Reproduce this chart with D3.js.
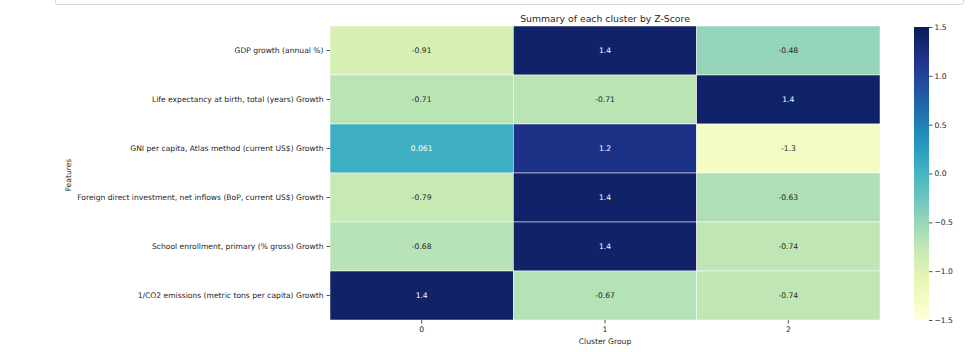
<!DOCTYPE html>
<html>
<head>
<meta charset="utf-8">
<script src="https://cdn.jsdelivr.net/npm/d3@7"></script>
<style>
  body { margin: 0; background: #fff; }
  svg { font-family: "DejaVu Sans", sans-serif; }
</style>
</head>
<body>
<svg id="chart" width="980" height="352"></svg>
<script>
// values as shown in the cells
var features = [
    "GDP growth (annual %)",
    "Life expectancy at birth, total (years) Growth",
    "GNI per capita, Atlas method (current US$) Growth",
    "Foreign direct investment, net inflows (BoP, current US$) Growth",
    "School enrollment, primary (% gross) Growth",
    "1/CO2 emissions (metric tons per capita) Growth"
];
var clusters = ["0", "1", "2"];
var zscores = [
    [-0.91, 1.4, -0.48],
    [-0.71, -0.71, 1.4],
    [0.061, 1.2, -1.3],
    [-0.79, 1.4, -0.63],
    [-0.68, 1.4, -0.74],
    [1.4, -0.67, -0.74]
];
var cbarTicks = [1.5, 1.0, 0.5, 0.0, -0.5, -1.0, -1.5];

var fs = 7.6;   // small text size

var svg = d3.select("#chart");

// notebook cell frame peeking at the top
svg.append("rect")
    .attr("x", 55.5).attr("y", -10)
    .attr("width", 908).attr("height", 14.5)
    .attr("rx", 2)
    .attr("fill", "#fff")
    .attr("stroke", "#d6d6d6");

var hmLeft = 330, hmTop = 26, hmRight = 880, hmBottom = 320;

var x = d3.scaleBand().domain(clusters).range([hmLeft, hmRight]);
var y = d3.scaleBand().domain(features).range([hmTop, hmBottom]);
var color = d3.scaleSequential(d3.interpolateYlGnBu).domain([-1.5, 1.5]);

var cells = [];
zscores.forEach(function(row, i) {
    row.forEach(function(v, j) {
        cells.push({ f: features[i], c: clusters[j], v: v });
    });
});

var g = svg.append("g");

g.selectAll("rect.cell")
    .data(cells)
    .enter().append("rect")
    .attr("class", "cell")
    .attr("x", function(d) { return x(d.c); })
    .attr("y", function(d) { return y(d.f); })
    .attr("width", x.bandwidth())
    .attr("height", y.bandwidth())
    .attr("fill", function(d) { return color(d.v); })
    .attr("stroke", "#fff")
    .attr("stroke-width", 0.5);

// text colour like seaborn: dark cells get white text
function lum(c) {
    var rgb = d3.rgb(c);
    var ch = [rgb.r, rgb.g, rgb.b].map(function(v) {
        v = v / 255;
        return v <= 0.03928 ? v / 12.92 : Math.pow((v + 0.055) / 1.055, 2.4);
    });
    return 0.2126 * ch[0] + 0.7152 * ch[1] + 0.0722 * ch[2];
}

g.selectAll("text.annot")
    .data(cells)
    .enter().append("text")
    .attr("class", "annot")
    .attr("x", function(d) { return x(d.c) + x.bandwidth() / 2; })
    .attr("y", function(d) { return y(d.f) + y.bandwidth() / 2; })
    .attr("dy", "0.35em")
    .attr("text-anchor", "middle")
    .attr("font-size", fs)
    .attr("fill", function(d) { return lum(color(d.v)) > 0.408 ? "#262626" : "#fff"; })
    .text(function(d) { return String(d.v); });

// axes
var xAxis = svg.append("g")
    .attr("transform", "translate(0," + hmBottom + ")")
    .call(d3.axisBottom(x).tickSize(3.5).tickPadding(3));
var yAxis = svg.append("g")
    .attr("transform", "translate(" + hmLeft + ",0)")
    .call(d3.axisLeft(y).tickSize(3.5).tickPadding(3));

[xAxis, yAxis].forEach(function(a) {
    a.select(".domain").remove();
    a.selectAll("text").attr("font-size", fs).attr("fill", "#262626")
        .attr("font-family", "DejaVu Sans, sans-serif");
    a.selectAll("line").attr("stroke", "#262626").attr("stroke-width", 0.8);
});

svg.append("text")
    .attr("x", (hmLeft + hmRight) / 2).attr("y", 344)
    .attr("text-anchor", "middle")
    .attr("font-size", fs).attr("fill", "#262626")
    .text("Cluster Group");

svg.append("text")
    .attr("transform", "translate(71," + ((hmTop + hmBottom) / 2 + 2) + ") rotate(-90)")
    .attr("text-anchor", "middle")
    .attr("font-size", fs).attr("fill", "#262626")
    .text("Features");

svg.append("text")
    .attr("x", (hmLeft + hmRight) / 2).attr("y", 22)
    .attr("text-anchor", "middle")
    .attr("font-size", 9.3).attr("fill", "#262626")
    .text("Summary of each cluster by Z-Score");

// colorbar
var cbX = 914, cbW = 15;
var cy = d3.scaleLinear().domain([-1.5, 1.5]).range([hmBottom, 27]);

var defs = svg.append("defs");
var grad = defs.append("linearGradient")
    .attr("id", "cbar")
    .attr("x1", "0").attr("y1", "1").attr("x2", "0").attr("y2", "0");
d3.range(0, 1.0001, 0.05).forEach(function(t) {
    grad.append("stop")
        .attr("offset", t)
        .attr("stop-color", d3.interpolateYlGnBu(t));
});

svg.append("rect")
    .attr("x", cbX).attr("y", cy(1.5))
    .attr("width", cbW).attr("height", cy(-1.5) - cy(1.5))
    .attr("fill", "url(#cbar)");

var cAxis = svg.append("g")
    .attr("transform", "translate(" + (cbX + cbW) + ",0)")
    .call(d3.axisRight(cy).tickValues(cbarTicks).tickSize(3.5).tickPadding(2)
        .tickFormat(function(d) { return d3.format(".1f")(d).replace("-", "\u2212"); }));
cAxis.select(".domain").remove();
cAxis.selectAll("text").attr("font-size", fs).attr("fill", "#262626")
    .attr("font-family", "DejaVu Sans, sans-serif");
cAxis.selectAll("line").attr("stroke", "#262626").attr("stroke-width", 0.8);
</script>
</body>
</html>
